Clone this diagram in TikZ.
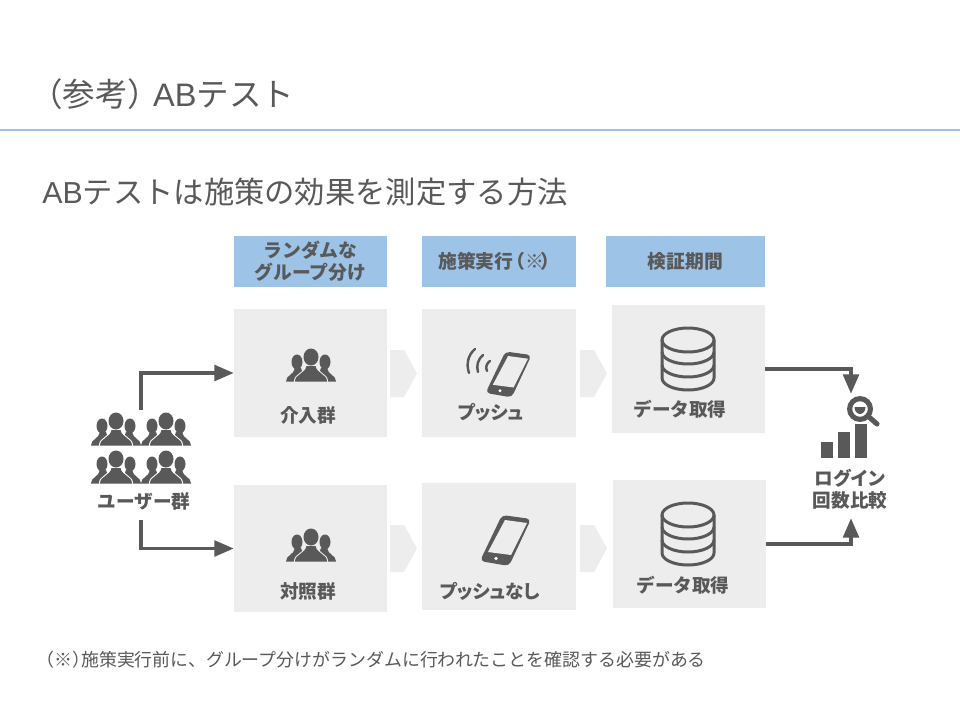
\documentclass[tikz,border=0pt]{standalone}
\usepackage{fontspec}
\setmainfont{Noto Sans CJK JP}
\newfontfamily\latinfont{Liberation Sans}
\newfontfamily\paltfont[RawFeature=+palt]{Noto Sans CJK JP}
\usetikzlibrary{arrows.meta}
\definecolor{inkgray}{HTML}{595959}
\definecolor{boxgray}{HTML}{EDEDED}
\definecolor{headblue}{HTML}{9DC3E6}
\tikzset{
 headbox/.style={fill=headblue,text=inkgray,font=\fontsize{10.7}{12.5}\selectfont\bfseries,align=center,inner sep=0pt},
 graybox/.style={fill=boxgray,inner sep=0pt},
 lbl/.style={text=inkgray,font=\fontsize{10.6}{12.5}\selectfont\bfseries,align=center,inner sep=0pt},
 flow/.style={draw=inkgray,line width=1.8pt,-{Triangle[length=11pt,width=9pt]}},
 chevron/.style={fill=boxgray,draw=none},
 pics/people/.style={code={
  \foreach \sx in {-1,1}{
   \fill[inkgray] (\sx*14,-4) ellipse (5.5 and 7.5);
   \fill[inkgray] (\sx*25,15.5) .. controls (\sx*25,9) and (\sx*17,9) .. (\sx*16,2) -- (\sx*10,2) -- (\sx*5,15.5) -- cycle;
  }
  \path[draw=#1,line width=1.2pt] (0,-9) ellipse (7.5 and 8.5);
  \path[draw=#1,line width=1.2pt] (-16,15.5) .. controls (-16,8) and (-6,8) .. (-4.5,0) -- (4.5,0) .. controls (6,8) and (16,8) .. (16,15.5) -- cycle;
  \fill[inkgray] (0,-9) ellipse (7.5 and 8.5);
  \fill[inkgray] (-16,15.5) .. controls (-16,8) and (-6,8) .. (-4.5,0) -- (4.5,0) .. controls (6,8) and (16,8) .. (16,15.5) -- cycle;
 }},
 pics/phone/.style={code={
  \fill[inkgray,rounded corners=2.5pt] (-4,-25) -- (25,-21) -- (3,26) -- (-26,21) -- cycle;
  \fill[boxgray] (-1,-20) -- (21,-17) -- (5,15) -- (-18,12) -- cycle;
  \fill[white] (-10,18.5) circle (1.8);
 }},
 pics/dbase/.style={code={
  \draw[inkgray,line width=1.7pt] (0,-19) ellipse (26 and 12);
  \draw[inkgray,line width=1.7pt] (-26,-19) -- (-26,19) arc[start angle=180,end angle=360,x radius=26,y radius=-12] -- (26,-19);
  \draw[inkgray,line width=1.7pt] (-26,-7) arc[start angle=180,end angle=360,x radius=26,y radius=-12];
  \draw[inkgray,line width=1.7pt] (-26,6) arc[start angle=180,end angle=360,x radius=26,y radius=-12];
 }}
}
\begin{document}
\begin{tikzpicture}[x=0.02cm,y=-0.02cm]
 \useasboundingbox (0,0) rectangle (960,720);
 \fill[white] (0,0) rectangle (960,720);

 \node[anchor=west,text=inkgray,font=\fontsize{18.5}{22}\selectfont,inner sep=0pt] (title) at (30,94) {（参考）\kern-.22em{\latinfont AB}テスト};
 \draw[headblue,line width=1.4pt] (0,130) -- (960,130);
 \node[anchor=west,text=inkgray,font=\fontsize{17.25}{20}\selectfont,inner sep=0pt] (subtitle) at (42,192) {{\latinfont AB}テストは施策の効果を測定する方法};

 \node[headbox,minimum width=3.06cm,minimum height=1.02cm] (h1) at (310.5,261.5) {ランダムな\\グループ分け};
 \node[headbox,minimum width=3.08cm,minimum height=1.02cm] (h2) at (499,261.5) {施策実行\kern-.35em（※\kern-.2em）};
 \node[headbox,minimum width=3.18cm,minimum height=1.02cm] (h3) at (685.5,261.5) {検証期間};

 \node[graybox,minimum width=3.06cm,minimum height=2.56cm] (a1) at (310.5,373) {};
 \node[graybox,minimum width=3.08cm,minimum height=2.56cm] (a2) at (499,373) {};
 \node[graybox,minimum width=3.06cm,minimum height=2.56cm] (a3) at (688.5,369) {};
 \node[graybox,minimum width=3.06cm,minimum height=2.54cm] (b1) at (310.5,548.5) {};
 \node[graybox,minimum width=3.08cm,minimum height=2.54cm] (b2) at (499,546.5) {};
 \node[graybox,minimum width=3.06cm,minimum height=2.56cm] (b3) at (689.5,544) {};

 \foreach \cx/\cy in {390/350,580/350,390/525,580/525}
  \fill[chevron] (\cx,\cy) -- (\cx+14,\cy) -- (\cx+27,\cy+23.5) -- (\cx+14,\cy+47) -- (\cx,\cy+47) -- cycle;

 \pic at (311,366) {people=boxgray};
 \pic at (311,546) {people=boxgray};
 \pic at (116,430) {people=white};
 \pic at (166,430) {people=white};
 \pic at (116,468) {people=white};
 \pic at (166,468) {people=white};

 \pic[scale=.9] at (509,374) {phone};
 \pic at (506,540) {phone};
 \draw[inkgray,line width=1.4pt,line cap=round] (475,349) .. controls (468,355) and (466,364) .. (469,373);
 \draw[inkgray,line width=1.4pt,line cap=round] (483,355) .. controls (478,359) and (476,366) .. (478,372);
 \draw[inkgray,line width=1.4pt,line cap=round] (490,361) .. controls (487,363) and (485,367) .. (487,371);

 \pic at (688,359) {dbase};
 \pic at (688,534) {dbase};

 \fill[inkgray] (821,442) rectangle (833,458);
 \fill[inkgray] (838,432) rectangle (850,458);
 \fill[inkgray] (855,424) rectangle (867,458);
 \draw[white,line width=4.6pt,line cap=round] (871,417) -- (877,424);
 \fill[white] (860,409) circle (14.5);
 \draw[inkgray,line width=2.9pt] (860,409) circle (10.4);
 \fill[inkgray] (854.5,407) arc[start angle=180,end angle=0,x radius=5.5,y radius=7] -- cycle;
 \draw[inkgray,line width=2.9pt,line cap=round] (869,417) -- (877,424);

 \node[lbl] (l1) at (308,415) {介入群};
 \node[lbl] (l2) at (308,591) {対照群};
 \node[lbl] (l3) at (144,501) {ユーザー群};
 \node[lbl] (l4) at (491,412) {\paltfont\bfseries プッシュ};
 \node[lbl] (l5) at (490,591) {\paltfont\bfseries プッシュなし};
 \node[lbl] (l6) at (680,409) {データ取得};
 \node[lbl] (l7) at (683,585) {データ取得};
 \node[lbl] (l8) at (850,489) {{\paltfont\bfseries ログイン}\\回数比較};

 \node[inner sep=0pt,minimum width=2cm,minimum height=2.2cm] (users) at (141,465) {};
 \node[inner sep=0pt,minimum width=1.2cm,minimum height=2.48cm] (login) at (851,456) {};
 \draw[flow] (users.north) |- (a1.west);
 \draw[flow] (users.south) |- (b1.west);
 \draw[flow] (a3.east) -| (login.north);
 \draw[flow] (b3.east) -| (login.south);

 \node[anchor=west,text=inkgray,font=\fontsize{10.2}{12}\selectfont,inner sep=0pt] (note) at (36,660) {（※）\kern-.5em 施策実行前に、グループ分けがランダムに行われたことを確認する必要がある};
\end{tikzpicture}
\end{document}
